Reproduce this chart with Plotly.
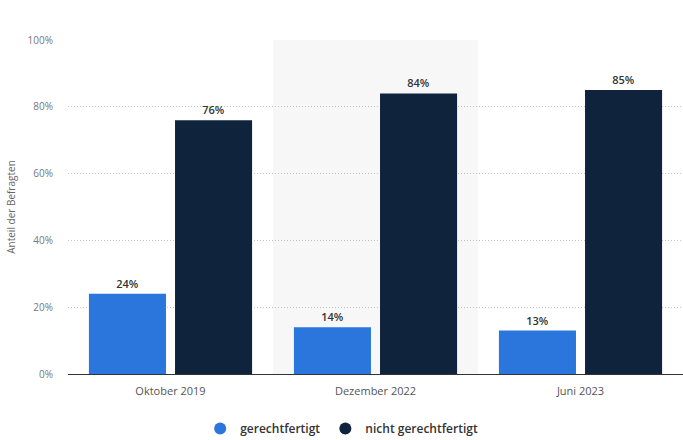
import plotly.graph_objects as go

categories = ["Oktober 2019", "Dezember 2022", "Juni 2023"]
gerechtfertigt = [24, 14, 13]
nicht_gerechtfertigt = [76, 84, 85]
y_ticks = [0, 20, 40, 60, 80, 100]
y_tick_labels = ["0%", "20%", "40%", "60%", "80%", "100%"]

BLUE = "#2a76dd"
NAVY = "#10233c"
FONT = "Open Sans, Roboto, sans-serif"

fig = go.Figure()
fig.add_trace(go.Bar(
    x=categories, y=gerechtfertigt, name="gerechtfertigt",
    marker=dict(color=BLUE, line=dict(width=0)),
    text=[f"{v}%" for v in gerechtfertigt], textposition="outside",
    textfont=dict(size=11, color="#333333", family=FONT, weight=600),
    cliponaxis=False, showlegend=False,
))
fig.add_trace(go.Bar(
    x=categories, y=nicht_gerechtfertigt, name="nicht gerechtfertigt",
    marker=dict(color=NAVY, line=dict(width=0)),
    text=[f"{v}%" for v in nicht_gerechtfertigt], textposition="outside",
    textfont=dict(size=11, color="#333333", family=FONT, weight=600),
    cliponaxis=False, showlegend=False,
))
# legend entries with circle markers
for name, col in [("gerechtfertigt", BLUE), ("nicht gerechtfertigt", NAVY)]:
    fig.add_trace(go.Scatter(
        x=[None], y=[None], mode="markers", name=name,
        marker=dict(symbol="circle", size=13, color=col),
    ))

fig.add_shape(type="rect", xref="x", yref="paper", x0=0.5, x1=1.5, y0=0, y1=1,
              fillcolor="#f7f7f7", line=dict(width=0), layer="below")

fig.update_layout(
    width=683, height=440,
    margin=dict(l=68, r=0, t=40, b=66, autoexpand=False),
    paper_bgcolor="white", plot_bgcolor="white",
    barmode="group", bargap=0.16, bargroupgap=0.105,
    font=dict(family=FONT, color="#666666"),
    showlegend=True,
    legend=dict(orientation="h", x=0.445, xanchor="center", y=-0.163, yanchor="middle",
                font=dict(size=12, color="#333333", family=FONT, weight=600),
                itemsizing="constant", tracegroupgap=0, itemwidth=30),
    xaxis=dict(
        type="category", range=[-0.5, 2.5], showgrid=False, ticks="",
        tickfont=dict(size=11, color="#555555"), showline=False, ticklabelstandoff=9,
    ),
    yaxis=dict(
        range=[0, 100], tickvals=y_ticks, ticktext=y_tick_labels,
        tickfont=dict(size=10, color="#777777"), ticks="", ticklabelstandoff=14,
        showgrid=True, gridcolor="#c4c4c4", griddash="1px,2px", gridwidth=1,
        zeroline=True, zerolinecolor="#333333", zerolinewidth=1,
        title=dict(text="Anteil der Befragten", font=dict(size=10, color="#666666"), standoff=10),
    ),
)

fig.write_html("out.html", config={"displayModeBar": False},
               post_script="document.body.style.margin='0';document.body.style.overflow='hidden';")
